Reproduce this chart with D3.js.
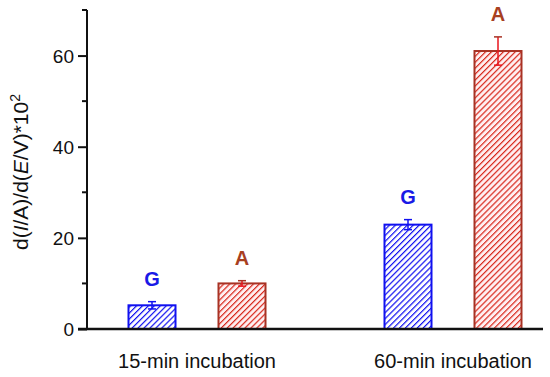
<!DOCTYPE html>
<html lang="en">
  <head>
    <meta charset="utf-8">
    <title>Incubation bars</title>
    <script src="https://d3js.org/d3.v7.min.js"></script>
    <style>
      body { margin: 0; background: #fff; }
      text { font-family: "Liberation Sans", Arial, sans-serif; }
    </style>
  </head>
  <body>
  <div id="chart"></div>
  <script>

  // data
  var groups = ["15-min incubation", "60-min incubation"];
  var series = ["G", "A"];
  var values = [[5.2, 10.0], [22.9, 61.0]];
  var errors = [[0.8, 0.6], [1.1, 3.1]];
  var yTicks = [0, 20, 40, 60];
  var yMinorTicks = [10, 30, 50, 70];

  var w = 550;
  var h = 377;
  var margin = {top: 10, right: 5, bottom: 48, left: 87};
  var innerWidth = w - margin.left - margin.right;
  var innerHeight = h - margin.top - margin.bottom;

  var stroke = {G: "#1010f0", A: "#a83224"};
  var hatch = {G: "#1010f0", A: "#d8281c"};
  var labelColor = {G: "#1a1ae6", A: "#a8401f"};
  var errColor = {G: "#1010f0", A: "#e8141c"};

  var svg = d3.select("#chart")
    .append("svg")
    .attr("width", w)
    .attr("height", h);

  // hatch patterns
  var defs = svg.append("defs");
  series.forEach(function(s) {
    var p = defs.append("pattern")
      .attr("id", "hatch-" + s)
      .attr("patternUnits", "userSpaceOnUse")
      .attr("width", 4.2)
      .attr("height", 4.2)
      .attr("patternTransform", "rotate(45)");
    p.append("rect").attr("width", 4.2).attr("height", 4.2)
      .attr("fill", s == "A" ? "#fff0f2" : "#fff");
    p.append("line")
      .attr("x1", 0).attr("y1", 0).attr("x2", 0).attr("y2", 4.2)
      .attr("stroke", hatch[s])
      .attr("stroke-width", 2.4);
  });

  var g = svg.append("g")
    .attr("transform", `translate (${margin.left}, ${margin.top})`);

  var yScale = d3.scaleLinear()
    .domain([0, 70])
    .range([innerHeight, 0]);

  // group centres and bar offsets inside a group
  var x0 = d3.scalePoint()
    .domain(groups)
    .range([110, 366]);

  var x1 = d3.scalePoint()
    .domain(series)
    .range([-45, 45]);

  var rows = [];
  groups.forEach(function(grp, i) {
    series.forEach(function(s, j) {
      rows.push({group: grp, series: s, value: values[i][j], err: errors[i][j]});
    });
  });

  var barW = 47;
  function cx(d) {
    return x0(d.group) + x1(d.series);
  }

  // bars
  g.selectAll(".bar").data(rows).enter().append("rect")
    .attr("class", "bar")
    .attr("x", d => cx(d) - barW / 2)
    .attr("y", d => yScale(d.value))
    .attr("width", barW)
    .attr("height", d => yScale(0) - yScale(d.value))
    .attr("fill", d => "url(#hatch-" + d.series + ")")
    .attr("stroke", d => stroke[d.series])
    .attr("stroke-width", 2);

  // error bars
  var eb = g.selectAll(".err").data(rows).enter().append("g")
    .attr("class", "err");
  eb.append("line")
    .attr("x1", cx)
    .attr("x2", cx)
    .attr("y1", d => yScale(d.value + d.err))
    .attr("y2", d => yScale(d.value - d.err))
    .attr("stroke", d => errColor[d.series])
    .attr("stroke-width", 1.5);
  eb.append("line")
    .attr("x1", d => cx(d) - 4)
    .attr("x2", d => cx(d) + 4)
    .attr("y1", d => yScale(d.value + d.err))
    .attr("y2", d => yScale(d.value + d.err))
    .attr("stroke", d => d.series == "A" ? "#a83224" : errColor[d.series])
    .attr("stroke-width", 1.5);
  eb.append("line")
    .attr("x1", d => cx(d) - 4)
    .attr("x2", d => cx(d) + 4)
    .attr("y1", d => yScale(d.value - d.err))
    .attr("y2", d => yScale(d.value - d.err))
    .attr("stroke", d => errColor[d.series])
    .attr("stroke-width", 1.5);

  // letters over bars
  g.selectAll(".lbl").data(rows).enter().append("text")
    .attr("class", "lbl")
    .attr("x", cx)
    .attr("y", d => yScale(d.value + d.err) - 16)
    .attr("text-anchor", "middle")
    .attr("font-size", 20)
    .attr("font-weight", "bold")
    .attr("fill", d => labelColor[d.series])
    .text(d => d.series);

  // y axis
  var yAxis = d3.axisLeft(yScale)
    .tickValues(yTicks)
    .tickSize(9)
    .tickPadding(4);
  var ya = g.append("g").call(yAxis);
  ya.select(".domain").remove();
  ya.selectAll("text").attr("font-size", 19).attr("fill", "#111")
    .attr("dy", "0.35em")
    .style("font-family", "Liberation Sans, Arial, sans-serif");
  ya.selectAll("line").attr("stroke", "#111").attr("stroke-width", 2);

  g.selectAll(".minor").data(yMinorTicks).enter().append("line")
    .attr("x1", -5).attr("x2", 0)
    .attr("y1", d => yScale(d)).attr("y2", d => yScale(d))
    .attr("stroke", "#111").attr("stroke-width", 2);

  g.append("line")
    .attr("x1", 0).attr("x2", 0)
    .attr("y1", yScale(70)).attr("y2", yScale(0))
    .attr("stroke", "#111").attr("stroke-width", 2);

  // x axis
  g.append("line")
    .attr("x1", -9).attr("x2", 456)
    .attr("y1", yScale(0)).attr("y2", yScale(0))
    .attr("stroke", "#111").attr("stroke-width", 2.5);

  g.selectAll(".cat").data(groups).enter().append("text")
    .attr("class", "cat")
    .attr("x", d => x0(d))
    .attr("y", innerHeight + 39)
    .attr("text-anchor", "middle")
    .attr("font-size", 20)
    .attr("fill", "#111")
    .text(d => d);

  // y label
  var yl = svg.append("text")
    .attr("transform", "translate(28, 172) rotate(-90)")
    .attr("text-anchor", "middle")
    .attr("font-size", 21)
    .attr("fill", "#111");
  yl.append("tspan").text("d(");
  yl.append("tspan").attr("font-style", "italic").text("I");
  yl.append("tspan").text("/A)/d(");
  yl.append("tspan").attr("font-style", "italic").text("E");
  yl.append("tspan").text("/V)*10");
  yl.append("tspan").attr("font-size", 14).attr("dy", -8).text("2");

  </script>
  </body>
</html>
